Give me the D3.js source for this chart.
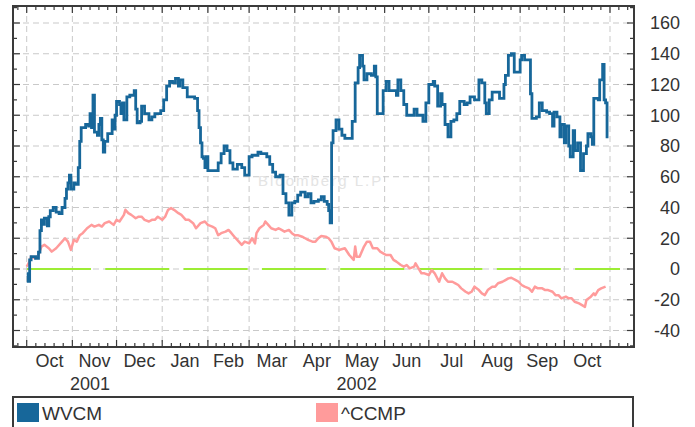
<!DOCTYPE html>
<html>
<head>
<meta charset="utf-8">
<script src="https://cdn.jsdelivr.net/npm/d3@7"></script>
<style>
  html, body { margin: 0; padding: 0; background: #fff; }
  svg { display: block; font-family: "Liberation Sans", Arial, sans-serif; }
</style>
</head>
<body>
<div id="chart"></div>
<script>
// % change since start, x = days after startDate
const startDate = new Date(2001, 9, 1);
const endDate = new Date(2002, 10, 1);

const wvcm = [
  [0,-3],[1,-8],[2,6],[3,8],[6,7],[8,11],[9,25],[10,32],[11,29],[12,33],[14,28],[15,34],
  [16,38],[18,40],[20,37],[22,36],[24,40],[26,46],[27,52],[28,56],[29,61],[30,52],[32,56],
  [33,55],[35,66],[36,83],[37,92],[40,94],[42,93],[43,101],[44,92],[45,113],[46,89],[48,87],
  [49,94],[50,98],[51,84],[52,76],[53,83],[55,88],[58,97],[59,91],[60,100],[61,109],[63,107],
  [64,101],[65,108],[66,97],[68,112],[70,113],[73,116],[74,104],[75,95],[77,96],[78,106],
  [80,101],[83,97],[85,99],[87,101],[91,103],[93,110],[95,119],[97,122],[99,121],[101,124],
  [103,119],[104,123],[106,118],[109,112],[113,112],[114,111],[116,103],[117,92],[118,82],
  [119,73],[120,72],[121,66],[122,73],[123,64],[126,64],[130,69],[132,75],[134,80],[136,77],
  [138,69],[140,65],[143,68],[146,66],[148,61],[150,61],[151,73],[153,74],[157,76],[159,75],
  [163,73],[165,68],[167,63],[169,60],[172,61],[174,49],[176,43],[178,35],[180,43],[182,44],
  [184,48],[186,50],[189,47],[191,49],[193,43],[195,44],[198,45],[200,47],[202,44],[204,42],
  [205,38],[206,30],[207,82],[208,90],[210,97],[212,91],[214,87],[216,85],[220,85],[221,96],
  [223,121],[225,131],[226,139],[228,132],[229,123],[231,127],[234,126],[236,132],[237,125],
  [238,101],[241,101],[242,116],[244,122],[246,116],[249,116],[251,113],[252,123],[254,116],
  [256,107],[258,100],[261,100],[263,104],[265,100],[269,96],[271,108],[273,120],[276,122],
  [277,119],[279,106],[281,114],[282,107],[284,94],[286,86],[288,96],[290,97],[292,101],
  [294,109],[297,107],[299,108],[301,112],[304,110],[305,110],[307,123],[309,121],[311,108],
  [312,101],[314,110],[316,115],[320,115],[321,111],[324,120],[325,126],[327,139],[329,140],
  [331,128],[333,128],[335,136],[336,139],[338,136],[341,136],[342,114],[343,98],[346,99],
  [348,108],[350,103],[353,102],[355,101],[357,93],[358,102],[360,99],[362,86],[363,94],
  [365,82],[366,93],[368,80],[369,73],[371,90],[372,77],[374,82],[376,64],[378,75],[380,80],
  [381,88],[383,86],[384,81],[385,111],[388,110],[389,123],[391,133],[392,110],[393,108],[394,85]
];

const ccmp = [
  [0,1.5],[2,5],[3,8],[6,7],[8,9],[10,14.6],[12,15.7],[15,13.5],[17,11.3],[20,13.5],[24,17.8],
  [26,20],[28,17.8],[30,12.4],[32,19],[34,17.8],[36,22],[38,23.3],[41,26.5],[44,28.7],[46,27.6],
  [49,28.7],[51,27.6],[53,29.8],[56,30.9],[59,28.7],[61,32],[63,30.9],[66,35.2],[67,38.5],
  [69,36.3],[71,35.2],[74,33],[76,34],[78,34],[80,32],[83,30.9],[85,32],[87,32],[89,34],[92,32],
  [94,34],[96,38.5],[98,39.6],[100,38.5],[103,36.3],[105,35.2],[108,32],[110,32],[113,29.8],
  [115,26.5],[118,29.8],[121,30.9],[123,28.7],[126,27.6],[128,26.5],[130,22],[132,23.3],
  [135,24.3],[137,25.4],[139,23.3],[141,21],[144,17.8],[146,15.7],[148,17.8],[151,16.7],
  [153,20],[155,16.7],[156,23.3],[158,26.5],[161,28.7],[162,30.9],[164,28.7],[166,26.5],
  [169,25.4],[171,26.5],[173,25.4],[175,24.3],[178,25.4],[180,23.3],[182,22],[184,22],[187,21],
  [189,20],[191,19],[194,17.8],[196,17.8],[198,20],[200,21.5],[203,21],[205,20],[207,17.5],
  [209,13.5],[212,12.4],[216,13.5],[219,9.1],[222,5.9],[223,14.6],[224,8],[226,8],[229,14.6],
  [231,17.8],[233,17.8],[235,13.5],[238,13.5],[240,11.3],[242,10.2],[244,9.1],[247,9.1],
  [249,5.9],[251,4.8],[254,2.6],[256,1.5],[258,2.6],[260,0.4],[263,1.5],[264,3.7],[266,0.4],
  [268,-2.8],[270,-2.8],[273,-3.9],[275,-0.7],[277,-2.8],[280,-8.3],[282,-2.8],[284,-6.1],
  [286,-8.3],[289,-8.3],[291,-9.3],[293,-10.4],[295,-12.6],[298,-14.8],[300,-15.9],[302,-14.8],
  [304,-11.5],[307,-13.7],[309,-15.9],[311,-17],[313,-13.7],[316,-11.5],[318,-11.5],[320,-9.3],
  [323,-8.3],[325,-7.2],[327,-6.1],[329,-5.7],[332,-7.2],[334,-8.3],[336,-10.4],[338,-11.5],
  [341,-12.6],[343,-14.8],[345,-11.5],[347,-12.6],[350,-12.6],[352,-13.7],[354,-13.7],
  [357,-14.8],[359,-17],[361,-17],[363,-19.1],[366,-18],[368,-19.1],[370,-19.1],[372,-21.3],
  [375,-22.4],[377,-23.5],[379,-24.6],[380,-20.2],[383,-18],[385,-15.9],[386,-17],[388,-13.7],
  [390,-12.6],[393,-11.5]
];

const yTicks = [-40, -20, 0, 20, 40, 60, 80, 100, 120, 140, 160];
const yearLabels = [["2001", new Date(2001, 10, 13)], ["2002", new Date(2002, 4, 13)]];
const seriesNames = ["WVCM", "^CCMP"];
const seriesColors = ["#17679a", "#ff9b9b"];

const width = 695, height = 427;
const plot = { left: 13, top: 6, right: 634, bottom: 347 };

const svg = d3.select("#chart").append("svg")
  .attr("width", width).attr("height", height);

const x = d3.scaleTime().domain([startDate, endDate]).range([26.7, 610]);
const y = d3.scaleLinear().domain([-40, 160]).range([330.5, 23]);
const xd = (d) => x(d3.timeDay.offset(startDate, d[0]));

const months = d3.timeMonth.range(startDate, d3.timeDay.offset(endDate, 1));
// 4 minor ticks between month starts
const minorTicks = [];
d3.timeMonth.range(new Date(2001, 8, 1), new Date(2002, 11, 1)).forEach((m) => {
  const next = d3.timeMonth.offset(m, 1);
  for (let k = 1; k < 5; k++) {
    const t = new Date(+m + (next - m) * k / 5);
    const px = x(t);
    if (px > plot.left + 1 && px < plot.right - 1) minorTicks.push(px);
  }
});

// grid
const grid = svg.append("g")
  .attr("stroke", "#c9c9c9").attr("stroke-width", 1).attr("stroke-dasharray", "6,4");
grid.selectAll("line.v").data(months).enter().append("line")
  .attr("x1", (d) => x(d)).attr("x2", (d) => x(d))
  .attr("y1", plot.top).attr("y2", plot.bottom);
grid.selectAll("line.h").data(yTicks).enter().append("line")
  .attr("x1", plot.left).attr("x2", plot.right)
  .attr("y1", (d) => y(d)).attr("y2", (d) => y(d));

// watermark
svg.append("text")
  .attr("x", 258).attr("y", 186)
  .attr("font-size", 15).attr("letter-spacing", 2)
  .attr("fill", "#e4e4e4")
  .text("Bloomberg L.P");

// zero line
svg.append("line")
  .attr("x1", 27).attr("x2", 620)
  .attr("y1", y(0)).attr("y2", y(0))
  .attr("stroke", "#9ded35").attr("stroke-width", 2)
  .attr("stroke-dasharray", "64,14.3");

svg.append("path")
  .datum(ccmp)
  .attr("fill", "none").attr("stroke", seriesColors[1]).attr("stroke-width", 2.5)
  .attr("stroke-linejoin", "round")
  .attr("d", d3.line().x(xd).y((d) => y(d[1])));

svg.append("path")
  .datum(wvcm)
  .attr("fill", "none").attr("stroke", seriesColors[0]).attr("stroke-width", 2.8)
  .attr("d", d3.line().curve(d3.curveStepAfter).x(xd).y((d) => y(d[1])));

// frame and ticks
const axes = svg.append("g").attr("stroke", "#3a3a3a").attr("stroke-width", 1.2);
const minorY = d3.range(-50, 171, 10).filter((v) => !yTicks.includes(v) && y(v) > plot.top && y(v) < plot.bottom);
[plot.left, plot.right].forEach((edge, i) => {
  const dir = i === 0 ? 1 : -1;
  axes.selectAll(null).data(yTicks).enter().append("line")
    .attr("x1", edge).attr("x2", edge + dir * 7)
    .attr("y1", (d) => y(d)).attr("y2", (d) => y(d));
  axes.selectAll(null).data(minorY).enter().append("line")
    .attr("x1", edge).attr("x2", edge + dir * 4)
    .attr("y1", (d) => y(d)).attr("y2", (d) => y(d));
});
[plot.top, plot.bottom].forEach((edge, i) => {
  const dir = i === 0 ? 1 : -1;
  axes.selectAll(null).data(months).enter().append("line")
    .attr("x1", (d) => x(d)).attr("x2", (d) => x(d))
    .attr("y1", edge).attr("y2", edge + dir * 7);
  axes.selectAll(null).data(minorTicks).enter().append("line")
    .attr("x1", (d) => d).attr("x2", (d) => d)
    .attr("y1", edge).attr("y2", edge + dir * 4);
});
svg.append("rect")
  .attr("x", plot.left).attr("y", plot.top)
  .attr("width", plot.right - plot.left).attr("height", plot.bottom - plot.top)
  .attr("fill", "none").attr("stroke", "#3a3a3a").attr("stroke-width", 2);

// labels
const labels = svg.append("g").attr("fill", "#333").attr("font-size", 18);
labels.selectAll(null).data(yTicks).enter().append("text")
  .attr("x", 680).attr("y", (d) => y(d)).attr("dy", "0.36em")
  .attr("text-anchor", "end")
  .text((d) => d);
labels.selectAll(null).data(months.slice(0, -1)).enter().append("text")
  .attr("x", (d) => (x(d) + x(d3.timeMonth.offset(d, 1))) / 2).attr("y", 367)
  .attr("text-anchor", "middle")
  .text(d3.timeFormat("%b"));
labels.selectAll(null).data(yearLabels).enter().append("text")
  .attr("x", (d) => x(d[1])).attr("y", 390)
  .attr("text-anchor", "middle")
  .text((d) => d[0]);

// legend
svg.append("rect")
  .attr("x", plot.left).attr("y", 397).attr("width", 620).attr("height", 40)
  .attr("fill", "#fff").attr("stroke", "#3a3a3a").attr("stroke-width", 2);
const legendX = [17, 316];
const legend = svg.selectAll("g.legend").data(seriesNames).enter().append("g")
  .attr("transform", (d, i) => `translate(${legendX[i]},403)`);
legend.append("rect").attr("width", 22).attr("height", 19)
  .attr("fill", (d, i) => seriesColors[i]);
legend.append("text").attr("x", 25).attr("y", 17)
  .attr("font-size", 19).attr("fill", "#333")
  .text((d) => d);
</script>
</body>
</html>
